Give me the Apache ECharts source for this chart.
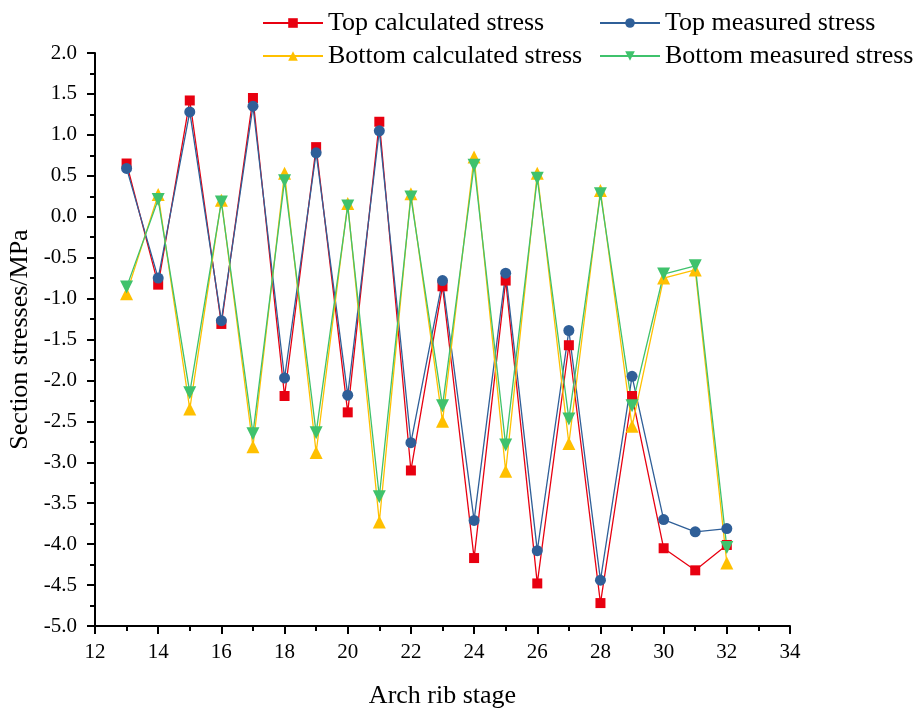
<!DOCTYPE html>
<html>
<head>
<meta charset="utf-8">
<script src="https://cdn.jsdelivr.net/npm/echarts@6/dist/echarts.min.js"></script>
<style>html,body{margin:0;padding:0;background:#fff;}#c{width:916px;height:708px;}</style>
</head>
<body>
<div id="c"></div>
<script>
var stages = [13,14,15,16,17,18,19,20,21,22,23,24,25,26,27,28,29,30,31,32];
var topCalc = [0.65,-0.83,1.42,-1.31,1.45,-2.19,0.85,-2.39,1.16,-3.10,-0.85,-4.17,-0.78,-4.48,-1.57,-4.72,-2.19,-4.05,-4.32,-4.01];
var topMeas = [0.59,-0.75,1.28,-1.27,1.35,-1.97,0.78,-2.18,1.05,-2.76,-0.78,-3.71,-0.69,-4.08,-1.39,-4.44,-1.95,-3.70,-3.85,-3.81];
var botCalc = [-0.94,0.27,-2.35,0.20,-2.81,0.53,-2.88,0.16,-3.73,0.28,-2.50,0.73,-3.11,0.53,-2.77,0.32,-2.56,-0.75,-0.65,-4.23];
var botMeas = [-0.86,0.21,-2.15,0.18,-2.65,0.44,-2.64,0.13,-3.42,0.24,-2.31,0.63,-2.79,0.47,-2.47,0.28,-2.31,-0.70,-0.60,-4.04];
var seriesNames = ['Top calculated stress','Top measured stress','Bottom calculated stress','Bottom measured stress'];
var xTitle = 'Arch rib stage';
var yTitle = 'Section stresses/MPa';

var FONT = 'Liberation Serif';
var colors = ['#e80010','#2f5f98','#ffc000','#3fc26c'];
function pairs(v){ return stages.map(function(s,i){ return [s, v[i]]; }); }
function mk(name, data, color, symbol, size, rot){
  return {
    name: name, type: 'line', data: pairs(data),
    symbol: symbol, symbolSize: size, symbolRotate: rot || 0,
    lineStyle: {color: color, width: 1.3},
    itemStyle: {color: color},
    emphasis: {disabled: true},
    animation: false
  };
}
function lg(name, left, top){
  return {
    data: [name], left: left, top: top,
    itemWidth: 60, itemHeight: 12, itemGap: 0,
    textStyle: {fontFamily: FONT, fontSize: 26, color: '#000'},
    selectedMode: false
  };
}
var chart = echarts.init(document.getElementById('c'));
chart.setOption({
  backgroundColor: '#fff',
  animation: false,
  legend: [
    lg(seriesNames[0], 257, 5),
    lg(seriesNames[1], 594, 5),
    lg(seriesNames[2], 257, 38),
    lg(seriesNames[3], 594, 38)
  ],
  grid: {left: 95, right: 126, top: 53, bottom: 82, containLabel: false, outerBoundsMode: 'none'},
  xAxis: {
    type: 'value', min: 12, max: 34, interval: 2,
    name: xTitle, nameLocation: 'middle', nameGap: 57,
    nameTextStyle: {fontFamily: FONT, fontSize: 26, color: '#000'},
    axisLine: {show: true, onZero: false, lineStyle: {color: '#000', width: 2}},
    axisTick: {show: true, length: 8, lineStyle: {color: '#000', width: 2}},
    minorTick: {show: true, splitNumber: 2, length: 5, lineStyle: {color: '#000', width: 2}},
    axisLabel: {fontFamily: FONT, fontSize: 21, color: '#000', margin: 16},
    splitLine: {show: false}
  },
  yAxis: {
    type: 'value', min: -5, max: 2, interval: 0.5,
    name: yTitle, nameLocation: 'middle', nameGap: 60, nameRotate: 90,
    nameTextStyle: {fontFamily: FONT, fontSize: 26, color: '#000'},
    axisLine: {show: true, onZero: false, lineStyle: {color: '#000', width: 2}},
    axisTick: {show: true, length: 8, lineStyle: {color: '#000', width: 2}},
    minorTick: {show: true, splitNumber: 2, length: 5, lineStyle: {color: '#000', width: 2}},
    axisLabel: {fontFamily: FONT, fontSize: 21, color: '#000', margin: 18,
      formatter: function(v){ return v.toFixed(1); }},
    splitLine: {show: false}
  },
  series: [
    mk(seriesNames[0], topCalc, colors[0], 'rect', 10),
    mk(seriesNames[1], topMeas, colors[1], 'circle', 11),
    mk(seriesNames[2], botCalc, colors[2], 'triangle', 13),
    mk(seriesNames[3], botMeas, colors[3], 'triangle', 13, 180)
  ]
});
</script>
</body>
</html>
